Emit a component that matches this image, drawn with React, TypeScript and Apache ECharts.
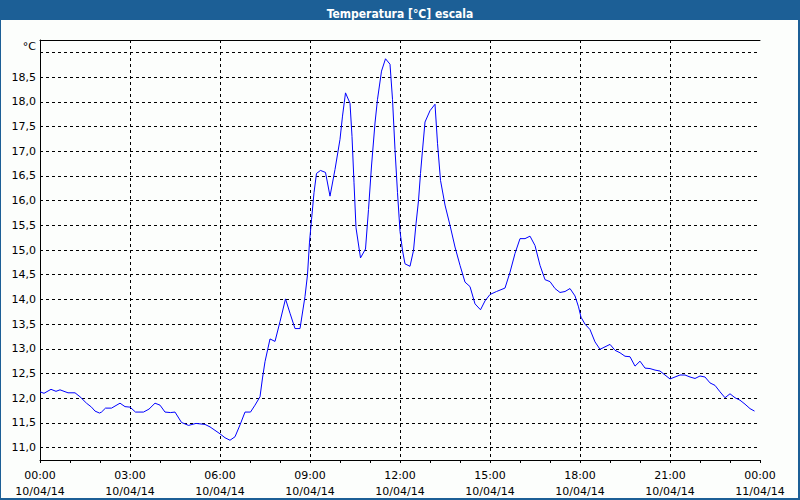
import React, { useEffect, useRef } from "react";
import * as echarts from "echarts";

// minutes after 10/04/14 00:00
const minutes = [
  0, 8, 22, 32, 40, 48, 56, 70, 80, 93, 103, 110, 119, 123, 131, 143, 160, 170, 180, 191,
  207, 218, 230, 240, 250, 261, 270, 283, 297, 312, 330, 340, 360, 370, 380,
  390, 400, 410, 421, 430, 440, 445, 450, 460, 470, 480, 491, 500, 510, 520, 530, 535, 539,
  543, 548, 553, 561, 571, 580, 590, 600, 605, 611, 620, 624, 628, 632, 641, 651, 657, 663,
  670, 675, 683, 691, 700, 705, 710, 715, 720,
  725, 730, 740, 747, 752, 757, 761, 765, 770, 780, 790, 795, 801, 810, 820, 830, 840, 850,
  860, 870, 881, 890, 900, 913, 930, 940, 950, 960, 970, 980, 990, 1000, 1010, 1020, 1030,
  1040, 1050, 1060, 1070, 1077, 1082, 1090,
  1100, 1110, 1120, 1130, 1140, 1150, 1160, 1170, 1180, 1190, 1200, 1210, 1220, 1230, 1240,
  1250, 1260, 1270, 1280, 1290, 1300, 1310, 1320, 1330, 1340, 1350, 1360, 1370, 1380, 1390,
  1400, 1410, 1420, 1429,
];

const temps = [
  12.13, 12.1, 12.18, 12.14, 12.17, 12.14, 12.11, 12.11, 12.03, 11.9, 11.82, 11.74, 11.7, 11.72, 11.8, 11.8, 11.9, 11.83, 11.82, 11.72,
  11.72, 11.78, 11.9, 11.86, 11.72, 11.71, 11.72, 11.51, 11.45, 11.49, 11.47, 11.42, 11.28, 11.2, 11.15,
  11.22, 11.46, 11.72, 11.72, 11.86, 12.03, 12.41, 12.74, 13.2, 13.15, 13.55, 14.01, 13.72, 13.41, 13.41, 14.06, 14.5, 15.16,
  15.61, 16.16, 16.55, 16.61, 16.57, 16.09, 16.63, 17.24, 17.71, 18.18, 17.97, 17.3, 16.36, 15.45, 14.84, 15.02, 15.82, 16.7,
  17.57, 18.05, 18.62, 18.87, 18.76, 18.05, 17.03, 16.16, 15.38,
  14.99, 14.72, 14.67, 14.99, 15.53, 16.0, 16.55, 17.02, 17.59, 17.82, 17.95, 17.16, 16.41, 15.91, 15.5, 15.06, 14.69, 14.35,
  14.26, 13.91, 13.79, 13.97, 14.1, 14.16, 14.23, 14.55, 14.93, 15.23, 15.23, 15.28, 15.09, 14.69, 14.4, 14.36, 14.22,
  14.14, 14.16, 14.22, 14.07, 13.85, 13.64, 13.5,
  13.39, 13.14, 12.99, 13.04, 13.09, 12.97, 12.92, 12.85, 12.84, 12.65, 12.75, 12.61, 12.6, 12.57, 12.55,
  12.47, 12.39, 12.43, 12.47, 12.47, 12.43, 12.4, 12.45, 12.43, 12.31, 12.26, 12.13, 12.01, 12.09, 12.01,
  11.96, 11.88, 11.79, 11.74,
];

const yTicks = [11, 11.5, 12, 12.5, 13, 13.5, 14, 14.5, 15, 15.5, 16, 16.5, 17, 17.5, 18, 18.5, 19];
const startDay = "10/04/14";
const endDay = "11/04/14";
const titleText = "Temperatura [°C] escala";
const unitText = "°C";

const FONT = "'DejaVu Sans', Verdana, sans-serif";
const TITLE_FONT = "'Liberation Sans Narrow', 'DejaVu Sans Condensed', 'Liberation Sans', sans-serif";
const BLUE = "#1c5f96";

export default function App() {
  const ref = useRef<HTMLDivElement>(null);

  useEffect(() => {
    document.body.style.margin = "0";
    const chart = echarts.init(ref.current!, null, { renderer: "svg" });
    const pad = (n: number) => String(n).padStart(2, "0");

    chart.setOption({
      animation: false,
      backgroundColor: "#fcfefc",
      title: {
        text: titleText,
        left: "center",
        top: 3,
        z: 10,
        textStyle: { color: "#ffffff", fontSize: 12, fontWeight: "bold", fontFamily: TITLE_FONT },
      },
      graphic: [
        { type: "rect", z: 0, shape: { x: 0, y: 0, width: 800, height: 20 }, style: { fill: BLUE } },
        { type: "rect", z: 0, shape: { x: 0, y: 0, width: 1, height: 500 }, style: { fill: BLUE } },
        { type: "rect", z: 0, shape: { x: 798, y: 0, width: 2, height: 500 }, style: { fill: BLUE } },
        { type: "rect", z: 0, shape: { x: 0, y: 498, width: 800, height: 2 }, style: { fill: BLUE } },
      ],
      grid: { left: 40, right: 40, top: 40, bottom: 40 },
      xAxis: [
        {
          type: "value",
          min: 0,
          max: 1440,
          interval: 180,
          axisLine: { show: true, lineStyle: { color: "#000" } },
          axisTick: { show: true, length: 3, lineStyle: { color: "#000" } },
          minorTick: { show: true, splitNumber: 3, length: 3, lineStyle: { color: "#000" } },
          splitLine: {
            show: true,
            showMinLine: false,
            showMaxLine: false,
            lineStyle: { color: "#000", type: [3, 3], width: 1 },
          },
          axisLabel: {
            color: "#000",
            fontSize: 11,
            fontFamily: FONT,
            lineHeight: 16,
            margin: 7,
            showMinLabel: true,
            showMaxLabel: true,
            formatter: (v: number) => {
              const h = Math.floor(v / 60) % 24;
              const m = v % 60;
              return `${pad(h)}:${pad(m)}\n${v >= 1440 ? endDay : startDay}`;
            },
          },
        },
        {
          type: "value",
          position: "top",
          min: 0,
          max: 1440,
          axisLine: { show: true, onZero: false, lineStyle: { color: "#000" } },
          axisTick: { show: false },
          axisLabel: { show: false },
          splitLine: { show: false },
        },
      ],
      yAxis: {
        type: "value",
        min: 10.75,
        max: 19.25,
        axisLine: { show: true, lineStyle: { color: "#000" } },
        axisTick: { show: false, customValues: yTicks },
        splitLine: { show: true, lineStyle: { color: "#000", type: [3, 3], width: 1 } },
        axisLabel: {
          customValues: yTicks,
          color: "#000",
          fontSize: 11,
          fontFamily: FONT,
          margin: 4,
          formatter: (v: number) => (v === 19 ? `{u|${unitText}}` : v.toFixed(1).replace(".", ",")),
          rich: { u: { fontSize: 11, fontFamily: FONT, color: "#000", padding: [0, 0, 11, 0] } },
        },
      },
      series: [
        {
          type: "line",
          xAxisIndex: 0,
          data: minutes.map((m, i) => [m, temps[i]]),
          showSymbol: false,
          symbol: "none",
          lineStyle: { color: "#0000ff", width: 1 },
          itemStyle: { color: "#0000ff" },
        },
      ],
    });

    return () => chart.dispose();
  }, []);

  return <div ref={ref} style={{ width: 800, height: 500 }} />;
}
